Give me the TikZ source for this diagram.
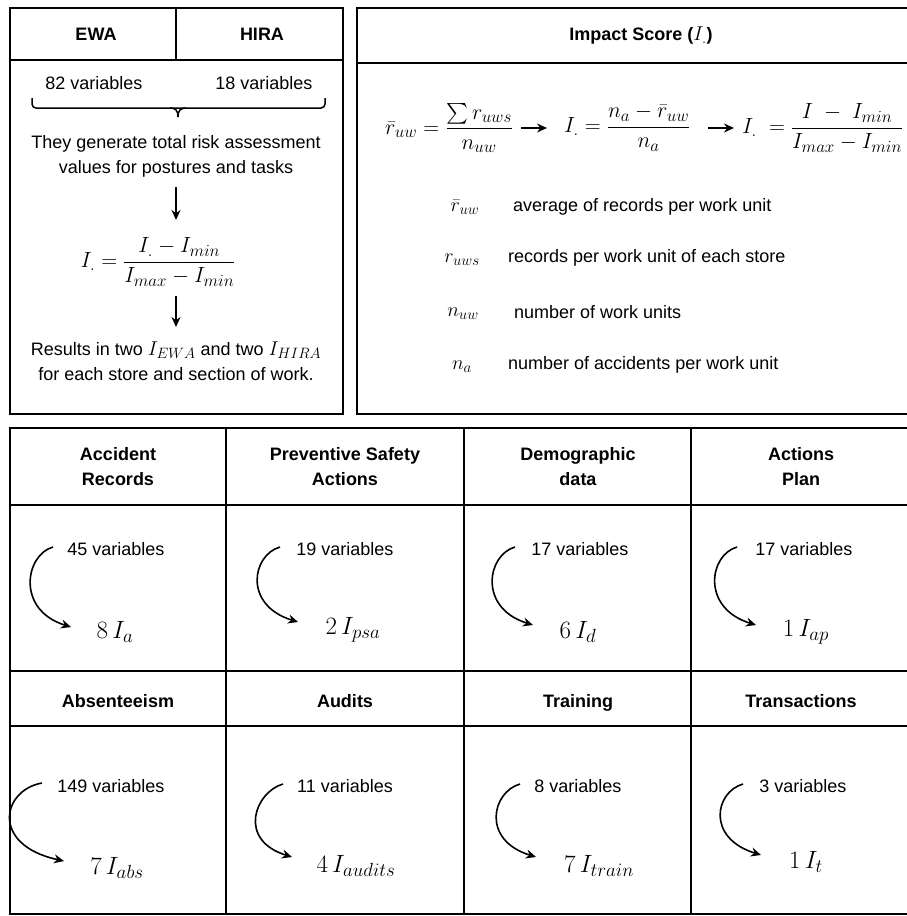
\documentclass[tikz,border=0pt]{standalone}
\usepackage{fix-cm}
\usepackage{amsmath}
\usepackage[no-math]{fontspec}
\setmainfont{Liberation Sans}
\DeclareMathSizes{18}{20}{15}{11}
\DeclareMathSizes{20}{20}{15}{11}
\DeclareMathSizes{22}{22}{17}{13}
\DeclareMathSizes{25}{25}{19}{14}
\usetikzlibrary{arrows.meta,calc}
\newcommand\curarr[2]{\draw[carrow] (#1) .. controls ($(#1)+(-28,8)$) and ($(#2)+(-55,-17)$) .. (#2);}
\begin{document}
\begin{tikzpicture}[x=1pt,y=-1pt,
  frame/.style={line width=1.8pt},
  hdr/.style={font=\fontsize{18}{25}\selectfont\bfseries, align=center, inner sep=0pt},
  txt/.style={font=\fontsize{18}{25}\selectfont, align=center, inner sep=0pt},
  mth/.style={font=\fontsize{22}{26}\selectfont, inner sep=0pt},
  leg/.style={font=\fontsize{20}{24}\selectfont, inner sep=0pt},
  ind/.style={font=\fontsize{25}{28}\selectfont, inner sep=0pt},
  darrow/.style={line width=1.7pt, -{Stealth[length=10pt,width=9pt]}},
  carrow/.style={line width=1.6pt, -{Stealth[length=10pt,width=9pt]}},
]
\useasboundingbox (0,0) rectangle (906,916);
\fill[white] (0,0) rectangle (906,916);

% ---------- top-left box ----------
\draw[frame] (10,8) rectangle (343,414);
\draw[frame] (10,60) -- (343,60);
\draw[frame] (176,8) -- (176,60);
\node[hdr] (ewa) at (96,34) {EWA};
\node[hdr] (hira) at (262,34) {HIRA};
\node[txt] (v82) at (94,83) {82 variables};
\node[txt] (v18) at (264,83) {18 variables};
\draw[line width=1.5pt, rounded corners=4pt] (32,98) -- (32,108) -- (325,108) -- (325,98);
\draw[line width=1.5pt] (170,108) .. controls (175,108) and (178,110) .. (178,117);
\draw[line width=1.5pt] (186,108) .. controls (181,108) and (178,110) .. (178,117);
\node[txt] (gen) at (176,156) {They generate total risk assessment\\values for postures and tasks};
\node[mth] (norm) at (158,262) {$I_{.} = \dfrac{I_{.} - I_{min}}{I_{max} - I_{min}}$};
\draw[darrow] (176,187) -- (176,220);
\node[txt] (res) at (176,361) {Results in two $I_{EWA}$ and two $I_{HIRA}$\\for each store and section of work.};
\draw[darrow] (176,296) -- (176,327);

% ---------- top-right box ----------
\draw[frame] (910,8) -- (357,8) -- (357,414) -- (910,414);
\draw[frame] (357,63) -- (910,63);
\node[hdr] (imp) at (641,36) {Impact Score ($I_{.}$)};
\node[mth, anchor=west] (f1) at (385,128) {$\bar r_{uw} = \dfrac{\sum r_{uws}}{n_{uw}}$};
\node[mth, anchor=west] (f2) at (564,128) {$I_{.} = \dfrac{n_a - \bar r_{uw}}{n_a}$};
\node[mth, anchor=west] (f3) at (742,128) {$I_{.} \;= \dfrac{I\; -\; I_{min}}{I_{max} - I_{min}}$};
\draw[darrow, line width=1.5pt] (521,128) -- (547,128);
\draw[darrow, line width=1.5pt] (708,128) -- (734,128);

\node[leg] (s1) at (465,207) {$\bar r_{uw}$};
\node[txt, anchor=west] (d1) at (513,207) {average of records per work unit};
\node[leg] (s2) at (462,260) {$r_{uws}$};
\node[txt, anchor=west] (d2) at (508,258) {records per work unit of each store};
\node[leg] (s3) at (463,314) {$n_{uw}$};
\node[txt, anchor=west] (d3) at (514,312) {number of work units};
\node[leg] (s4) at (462,367) {$n_a$};
\node[txt, anchor=west] (d4) at (508,365) {number of accidents per work unit};

% ---------- bottom grid ----------
\foreach \y in {428,505,671,726,914} \draw[frame] (9.1,\y) -- (910,\y);
\foreach \x in {10,226,464,691} \draw[frame] (\x,428) -- (\x,914);

\node[hdr] (h1) at (118,467) {Accident\\Records};
\node[hdr] (h2) at (345,467) {Preventive Safety\\Actions};
\node[hdr] (h3) at (578,467) {Demographic\\data};
\node[hdr] (h4) at (801,467) {Actions\\Plan};
\node[hdr, anchor=base] (h5) at (118,707) {Absenteeism};
\node[hdr, anchor=base] (h6) at (345,707) {Audits};
\node[hdr, anchor=base] (h7) at (578,707) {Training};
\node[hdr, anchor=base] (h8) at (801,707) {Transactions};

\node[txt] (v1) at (116,549) {45 variables};
\node[txt] (v2) at (345,549) {19 variables};
\node[txt] (v3) at (580,549) {17 variables};
\node[txt] (v4) at (804,549) {17 variables};
\node[txt] (v5) at (111,786) {149 variables};
\node[txt] (v6) at (345,786) {11 variables};
\node[txt] (v7) at (578,786) {8 variables};
\node[txt] (v8) at (803,786) {3 variables};

\node[ind] (i1) at (115,632) {$8\,I_{a}$};
\node[ind] (i2) at (353,630) {$2\,I_{psa}$};
\node[ind] (i3) at (578,632) {$6\,I_{d}$};
\node[ind] (i4) at (806,632) {$1\,I_{ap}$};
\node[ind] (i5) at (117,868) {$7\,I_{abs}$};
\node[ind] (i6) at (356,866) {$4\,I_{audits}$};
\node[ind] (i7) at (599,866) {$7\,I_{train}$};
\node[ind] (i8) at (806,862) {$1\,I_{t}$};

\coordinate (a1) at (53,547);  \coordinate (b1) at (71,627);
\coordinate (a2) at (280,547); \coordinate (b2) at (298,622);
\coordinate (a3) at (515,547); \coordinate (b3) at (533,625);
\coordinate (a4) at (737,547); \coordinate (b4) at (756,625);
\coordinate (a5) at (42,783);  \coordinate (b5) at (64,861);
\coordinate (a6) at (283,784); \coordinate (b6) at (292,857);
\coordinate (a7) at (520,784); \coordinate (b7) at (536,857);
\coordinate (a8) at (743,784); \coordinate (b8) at (761,855);
\curarr{a1}{b1}
\curarr{a2}{b2}
\curarr{a3}{b3}
\curarr{a4}{b4}
\draw[carrow] (a5) .. controls (2,790) and (-10,845) .. (b5);
\curarr{a6}{b6}
\curarr{a7}{b7}
\curarr{a8}{b8}
\end{tikzpicture}
\end{document}
